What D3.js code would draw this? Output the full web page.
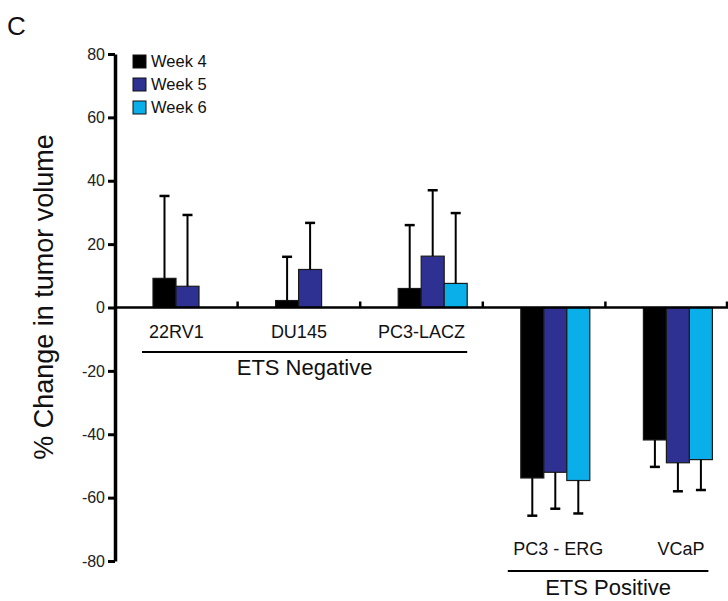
<!DOCTYPE html>
<html>
<head>
<meta charset="utf-8">
<script src="https://cdn.jsdelivr.net/npm/d3@7"></script>
<style>
  body { margin: 0; background: #fff; }
  svg { font-family: "Liberation Sans", Arial, sans-serif; }
</style>
</head>
<body>
<div id="chart"></div>
<script>
var width = 728,
    height = 601;

// data
var cellLines = ["22RV1", "DU145", "PC3-LACZ", "PC3 - ERG", "VCaP"];
var weeks = ["Week 4", "Week 5", "Week 6"];
var week4 = [9.2, 2.2, 6.0, -53.8, -41.8];
var week5 = [6.7, 12.0, 16.2, -52.0, -49.0];
var week6 = [null, null, 7.6, -54.6, -48.0];
var week4Err = [26, 13.8, 20, 11.9, 8.5];
var week5Err = [22.5, 14.7, 20.8, 11.5, 9];
var week6Err = [null, null, 22.2, 10.4, 9.6];
var yTicks = [-80, -60, -40, -20, 0, 20, 40, 60, 80];
var colors = ["#000000", "#2e3191", "#0aaee9"];

var series = [week4, week5, week6];
var errs = [week4Err, week5Err, week6Err];

var svg = d3.select('#chart').append('svg')
    .attr('width', width)
    .attr('height', height);

// scales
let x0 = d3.scaleBand().domain(cellLines).range([115, 728]);
let x1 = d3.scaleBand().domain(weeks).range([38, 107]);
let y = d3.scaleLinear().domain([-80, 80]).range([561, 54]);

// flatten into one row per bar
let bars = [];
cellLines.forEach((c, i) => {
    weeks.forEach((w, j) => {
        if (series[j][i] != null) {
            bars.push({line: c, week: w, value: series[j][i], err: errs[j][i], color: colors[j]});
        }
    });
});

let cx = d => x0(d.line) + x1(d.week) + x1.bandwidth() / 2;
let tip = d => y(d.value + Math.sign(d.value) * d.err);

// bars
svg.selectAll(".bar").data(bars).enter()
    .append("rect")
    .attr("class", "bar")
    .attr("x", d => x0(d.line) + x1(d.week))
    .attr("width", x1.bandwidth())
    .attr("y", d => y(Math.max(0, d.value)))
    .attr("height", d => Math.abs(y(d.value) - y(0)))
    .attr("fill", d => d.color)
    .attr("stroke", "#1a1a1a")
    .attr("stroke-width", 1.2);

// one sided error bars
let eb = svg.selectAll(".err").data(bars).enter().append("g").attr("class", "err");
eb.append("line")
    .attr("x1", cx).attr("x2", cx)
    .attr("y1", d => y(d.value))
    .attr("y2", tip)
    .attr("stroke", "#000").attr("stroke-width", 2);
eb.append("line")
    .attr("x1", d => cx(d) - 5)
    .attr("x2", d => cx(d) + 5)
    .attr("y1", tip).attr("y2", tip)
    .attr("stroke", "#000").attr("stroke-width", 2.5);

// zero line with small separators
svg.append("line")
    .attr("x1", 115).attr("x2", 728)
    .attr("y1", y(0)).attr("y2", y(0))
    .attr("stroke", "#000").attr("stroke-width", 2.5);
svg.selectAll(".sep").data(cellLines.slice(1).concat(["end"])).enter()
    .append("line")
    .attr("class", "sep")
    .attr("x1", d => d == "end" ? 727 : x0(d))
    .attr("x2", d => d == "end" ? 727 : x0(d))
    .attr("y1", y(0)).attr("y2", y(0) - 6)
    .attr("stroke", "#000").attr("stroke-width", 2.5);

// y axis
let axis = svg.append("g")
    .attr("transform", "translate(115,0)")
    .attr("font-size", 16)
    .call(d3.axisLeft(y).tickValues(yTicks).tickFormat(d => String(d))
        .tickSize(7).tickSizeOuter(0).tickPadding(3));
axis.attr("font-size", 16).attr("font-family", "'Liberation Sans', Arial, sans-serif");
axis.select(".domain").attr("stroke-width", 3.5);
axis.selectAll(".tick line").attr("stroke-width", 3);
axis.selectAll(".tick text")
    .attr("font-size", 16)
    .style("font-size", "16px")
    .style("fill", "#222");

// category labels
svg.selectAll(".clabel").data(cellLines).enter()
    .append("text")
    .attr("class", "clabel")
    .attr("x", (d, i) => week4[i] > 0 ? x0(d) + x0.bandwidth() / 2 : x0(d) + (x1.range()[0] + x1.range()[1]) / 2 + 3)
    .attr("y", (d, i) => week4[i] > 0 ? y(0) + 30 : 555)
    .attr("text-anchor", "middle")
    .style("font-size", "18px")
    .attr("fill", "#111")
    .text(d => d);

// group brackets
let groupsDef = [
    {name: "ETS Negative", x1: x0("22RV1") + 27, x2: x0("PC3-LACZ") + 107, y: 352, ty: 375},
    {name: "ETS Positive", x1: x0("PC3 - ERG") + 25, x2: x0("VCaP") + 103, y: 571, ty: 595}
];
svg.selectAll(".gline").data(groupsDef).enter()
    .append("line")
    .attr("x1", d => d.x1).attr("x2", d => d.x2)
    .attr("y1", d => d.y).attr("y2", d => d.y)
    .attr("stroke", "#000").attr("stroke-width", 2);
svg.selectAll(".gtext").data(groupsDef).enter()
    .append("text")
    .attr("x", d => (d.x1 + d.x2) / 2)
    .attr("y", d => d.ty)
    .attr("text-anchor", "middle")
    .style("font-size", "22px")
    .attr("fill", "#111")
    .text(d => d.name);

// y axis title
svg.append("text")
    .attr("transform", "translate(53,297) rotate(-90)")
    .attr("text-anchor", "middle")
    .style("font-size", "27px")
    .attr("fill", "#111")
    .text("% Change in tumor volume");

// panel letter
svg.append("text")
    .attr("x", 7).attr("y", 35)
    .style("font-size", "26px")
    .attr("fill", "#111")
    .text("C");

// legend
let legend = svg.append("g").attr("transform", "translate(133,55)");
let li = legend.selectAll(".li").data(weeks).enter().append("g")
    .attr("transform", (d, i) => "translate(0," + (i * 23) + ")");
li.append("rect")
    .attr("width", 13).attr("height", 13)
    .attr("fill", (d, i) => colors[i])
    .attr("stroke", "#111").attr("stroke-width", 1);
li.append("text")
    .attr("x", 18).attr("y", 12)
    .style("font-size", "16.5px")
    .attr("fill", "#111")
    .text(d => d);
</script>
</body>
</html>
